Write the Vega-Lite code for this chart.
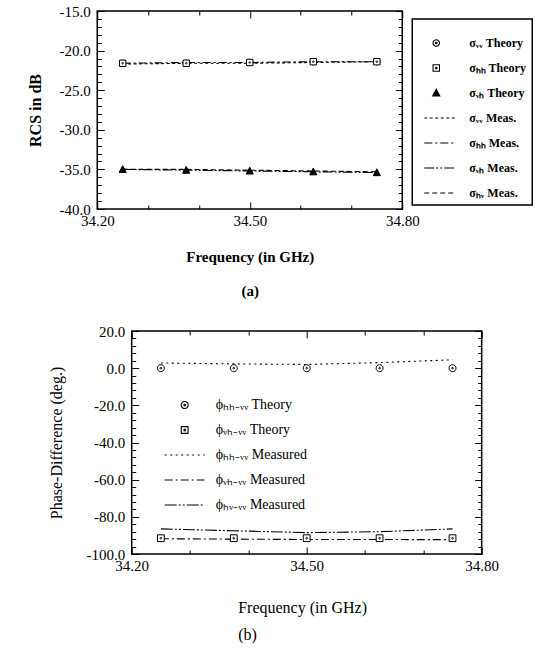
{
  "$schema": "https://vega.github.io/schema/vega-lite/v6.json",
  "background": "white",
  "padding": {"left": 26, "top": 3, "right": 0, "bottom": 0},
  "center": true,
  "spacing": 24,
  "resolve": {"scale": {"shape": "independent", "fill": "independent", "strokeDash": "independent", "x": "independent", "y": "independent"}, "legend": {"shape": "independent", "fill": "independent", "strokeDash": "independent"}},
  "config": {
    "font": "Liberation Serif",
    "view": {"stroke": "black", "strokeWidth": 1.5},
    "axis": {"domain": false, "grid": false, "ticks": true, "tickColor": "black", "tickWidth": 1, "labelColor": "black", "titleColor": "black", "labelFont": "Liberation Serif", "titleFont": "Liberation Serif", "labelFlush": false, "labelOverlap": false},
    "legend": {"labelFont": "Liberation Serif", "labelColor": "black"}
  },
  "datasets": {
    "top": [
      {"f": 34.25, "v": -21.6, "s": "σᵥᵥ Theory"},
      {"f": 34.375, "v": -21.6, "s": "σᵥᵥ Theory"},
      {"f": 34.5, "v": -21.5, "s": "σᵥᵥ Theory"},
      {"f": 34.625, "v": -21.4, "s": "σᵥᵥ Theory"},
      {"f": 34.75, "v": -21.4, "s": "σᵥᵥ Theory"},
      {"f": 34.25, "v": -21.6, "s": "σₕₕ Theory"},
      {"f": 34.375, "v": -21.6, "s": "σₕₕ Theory"},
      {"f": 34.5, "v": -21.5, "s": "σₕₕ Theory"},
      {"f": 34.625, "v": -21.4, "s": "σₕₕ Theory"},
      {"f": 34.75, "v": -21.4, "s": "σₕₕ Theory"},
      {"f": 34.25, "v": -35.0, "s": "σᵥₕ Theory"},
      {"f": 34.375, "v": -35.1, "s": "σᵥₕ Theory"},
      {"f": 34.5, "v": -35.2, "s": "σᵥₕ Theory"},
      {"f": 34.625, "v": -35.3, "s": "σᵥₕ Theory"},
      {"f": 34.75, "v": -35.4, "s": "σᵥₕ Theory"},
      {"f": 34.25, "v": -21.7, "s": "σᵥᵥ Meas."},
      {"f": 34.375, "v": -21.6, "s": "σᵥᵥ Meas."},
      {"f": 34.5, "v": -21.6, "s": "σᵥᵥ Meas."},
      {"f": 34.625, "v": -21.5, "s": "σᵥᵥ Meas."},
      {"f": 34.75, "v": -21.4, "s": "σᵥᵥ Meas."},
      {"f": 34.25, "v": -21.6, "s": "σₕₕ Meas."},
      {"f": 34.375, "v": -21.5, "s": "σₕₕ Meas."},
      {"f": 34.5, "v": -21.5, "s": "σₕₕ Meas."},
      {"f": 34.625, "v": -21.4, "s": "σₕₕ Meas."},
      {"f": 34.75, "v": -21.4, "s": "σₕₕ Meas."},
      {"f": 34.25, "v": -35.0, "s": "σᵥₕ Meas."},
      {"f": 34.375, "v": -35.1, "s": "σᵥₕ Meas."},
      {"f": 34.5, "v": -35.2, "s": "σᵥₕ Meas."},
      {"f": 34.625, "v": -35.3, "s": "σᵥₕ Meas."},
      {"f": 34.75, "v": -35.4, "s": "σᵥₕ Meas."},
      {"f": 34.25, "v": -35.0, "s": "σₕᵥ Meas."},
      {"f": 34.375, "v": -35.0, "s": "σₕᵥ Meas."},
      {"f": 34.5, "v": -35.1, "s": "σₕᵥ Meas."},
      {"f": 34.625, "v": -35.2, "s": "σₕᵥ Meas."},
      {"f": 34.75, "v": -35.3, "s": "σₕᵥ Meas."}
    ],
    "bottom": [
      {"f": 34.25, "v": 0.0, "s": "ϕₕₕ₋ᵥᵥ  Theory"},
      {"f": 34.375, "v": 0.0, "s": "ϕₕₕ₋ᵥᵥ  Theory"},
      {"f": 34.5, "v": 0.0, "s": "ϕₕₕ₋ᵥᵥ  Theory"},
      {"f": 34.625, "v": 0.0, "s": "ϕₕₕ₋ᵥᵥ  Theory"},
      {"f": 34.75, "v": 0.0, "s": "ϕₕₕ₋ᵥᵥ  Theory"},
      {"f": 34.25, "v": -91.5, "s": "ϕᵥₕ₋ᵥᵥ  Theory"},
      {"f": 34.375, "v": -91.5, "s": "ϕᵥₕ₋ᵥᵥ  Theory"},
      {"f": 34.5, "v": -91.5, "s": "ϕᵥₕ₋ᵥᵥ  Theory"},
      {"f": 34.625, "v": -91.5, "s": "ϕᵥₕ₋ᵥᵥ  Theory"},
      {"f": 34.75, "v": -91.5, "s": "ϕᵥₕ₋ᵥᵥ  Theory"},
      {"f": 34.25, "v": 2.8, "s": "ϕₕₕ₋ᵥᵥ  Measured"},
      {"f": 34.375, "v": 2.3, "s": "ϕₕₕ₋ᵥᵥ  Measured"},
      {"f": 34.5, "v": 2.0, "s": "ϕₕₕ₋ᵥᵥ  Measured"},
      {"f": 34.625, "v": 3.0, "s": "ϕₕₕ₋ᵥᵥ  Measured"},
      {"f": 34.75, "v": 4.5, "s": "ϕₕₕ₋ᵥᵥ  Measured"},
      {"f": 34.25, "v": -91.8, "s": "ϕᵥₕ₋ᵥᵥ  Measured"},
      {"f": 34.375, "v": -92.0, "s": "ϕᵥₕ₋ᵥᵥ  Measured"},
      {"f": 34.5, "v": -92.2, "s": "ϕᵥₕ₋ᵥᵥ  Measured"},
      {"f": 34.625, "v": -92.2, "s": "ϕᵥₕ₋ᵥᵥ  Measured"},
      {"f": 34.75, "v": -92.3, "s": "ϕᵥₕ₋ᵥᵥ  Measured"},
      {"f": 34.25, "v": -86.5, "s": "ϕₕᵥ₋ᵥᵥ  Measured"},
      {"f": 34.375, "v": -87.5, "s": "ϕₕᵥ₋ᵥᵥ  Measured"},
      {"f": 34.5, "v": -88.5, "s": "ϕₕᵥ₋ᵥᵥ  Measured"},
      {"f": 34.625, "v": -88.0, "s": "ϕₕᵥ₋ᵥᵥ  Measured"},
      {"f": 34.75, "v": -86.5, "s": "ϕₕᵥ₋ᵥᵥ  Measured"}
    ]
  },
  "vconcat": [
    {
      "width": 305,
      "height": 198,
      "data": {"name": "top"},
      "resolve": {"axis": {"x": "independent", "y": "independent"}},
      "layer": [
        {
          "transform": [{"filter": "indexof(datum.s, 'Meas') >= 0"}],
          "mark": {"type": "line", "stroke": "black", "strokeWidth": 1.1},
          "encoding": {
            "x": {"field": "f", "type": "quantitative", "scale": {"domain": [34.2, 34.8], "nice": false, "zero": false},
              "axis": {"orient": "bottom", "values": [34.2, 34.5, 34.8], "format": ".2f", "tickSize": -7, "labelFontSize": 15, "labelPadding": 11,
                "title": ["Frequency  (in GHz)", "(a)"], "titleFontSize": 15, "titleFontWeight": "bold", "titleLineHeight": 34, "titlePadding": 21}},
            "y": {"field": "v", "type": "quantitative", "scale": {"domain": [-40, -15], "nice": false, "zero": false},
              "axis": {"orient": "left", "values": [-40, -35, -30, -25, -20, -15], "tickSize": -7,
                "labelExpr": "(datum.value < 0 ? '-' : '') + format(abs(datum.value), '.1f')",
                "labelFontSize": 15, "labelPadding": 14,
                "title": "RCS in dB", "titleFontSize": 16, "titleFontWeight": "bold", "titlePadding": 16}},
            "strokeDash": {"field": "s", "type": "nominal",
              "scale": {"domain": ["σᵥᵥ Theory", "σₕₕ Theory", "σᵥₕ Theory", "σᵥᵥ Meas.", "σₕₕ Meas.", "σᵥₕ Meas.", "σₕᵥ Meas."],
                "range": [[1, 0], [1, 0], [1, 0], [3, 2.5], [8, 3, 2, 3], [10, 2, 2, 2, 2, 2], [5, 3]]},
              "legend": {"orient": "none", "legendX": 315, "legendY": 8, "title": null, "padding": 6, "strokeColor": "black", "symbolSize": 1156, "labelFontSize": 12, "labelFontWeight": "bold", "labelOffset": 15, "rowPadding": 1, "symbolStrokeColor": "black", "symbolStrokeWidth": 1.1, "symbolOpacity": 1, "encode": {"legend": {"update": {"strokeWidth": {"value": 1.5}}}}}}
          }
        },
        {
          "transform": [{"filter": "indexof(datum.s, 'Theory') >= 0"}],
          "mark": {"type": "point", "stroke": "black", "strokeWidth": 1, "opacity": 1, "size": 1156},
          "encoding": {
            "x": {"field": "f", "type": "quantitative", "scale": {"domain": [34.2, 34.8], "nice": false, "zero": false},
              "axis": {"orient": "top", "values": [34.2, 34.5, 34.8], "tickSize": -7, "labels": false, "title": null}},
            "y": {"field": "v", "type": "quantitative", "scale": {"domain": [-40, -15], "nice": false, "zero": false},
              "axis": {"orient": "right", "values": [-40, -35, -30, -25, -20, -15], "tickSize": -7, "labels": false, "title": null}},
            "shape": {"field": "s", "type": "nominal",
              "scale": {"domain": ["σᵥᵥ Theory", "σₕₕ Theory", "σᵥₕ Theory", "σᵥᵥ Meas.", "σₕₕ Meas.", "σᵥₕ Meas.", "σₕᵥ Meas."],
                "range": [
                  "M-0.188,0A0.188,0.188,0,1,1,0.188,0A0.188,0.188,0,1,1,-0.188,0ZM-0.047,0A0.047,0.047,0,1,1,0.047,0A0.047,0.047,0,1,1,-0.047,0Z",
                  "M-0.188,-0.188H0.188V0.188H-0.188ZM-0.047,0A0.047,0.047,0,1,1,0.047,0A0.047,0.047,0,1,1,-0.047,0Z",
                  "M0,-0.22L0.21,0.18H-0.21Z",
                  "M-0.706,0H1.118", "M-0.706,0H1.118", "M-0.706,0H1.118", "M-0.706,0H1.118"]},
              "legend": {"orient": "none", "legendX": 315, "legendY": 8, "title": null, "padding": 6, "strokeColor": "black", "symbolSize": 1156, "labelFontSize": 12, "labelFontWeight": "bold", "labelOffset": 15, "rowPadding": 1, "symbolStrokeColor": "black", "symbolStrokeWidth": 1.1, "symbolOpacity": 1, "encode": {"legend": {"update": {"strokeWidth": {"value": 1.5}}}}}},
            "fill": {"field": "s", "type": "nominal",
              "scale": {"domain": ["σᵥᵥ Theory", "σₕₕ Theory", "σᵥₕ Theory", "σᵥᵥ Meas.", "σₕₕ Meas.", "σᵥₕ Meas.", "σₕᵥ Meas."],
                "range": ["white", "white", "black", "transparent", "transparent", "transparent", "transparent"]},
              "legend": {"orient": "none", "legendX": 315, "legendY": 8, "title": null, "padding": 6, "strokeColor": "black", "symbolSize": 1156, "labelFontSize": 12, "labelFontWeight": "bold", "labelOffset": 15, "rowPadding": 1, "symbolStrokeColor": "black", "symbolStrokeWidth": 1.1, "symbolOpacity": 1, "encode": {"legend": {"update": {"strokeWidth": {"value": 1.5}}}}}}
          }
        },
        {
          "transform": [{"filter": "false"}],
          "mark": {"type": "point", "opacity": 0},
          "encoding": {
            "x": {"field": "f", "type": "quantitative", "scale": {"domain": [34.2, 34.8], "nice": false, "zero": false},
              "axis": {"orient": "bottom", "values": [34.3, 34.4, 34.6, 34.7], "tickSize": -4, "labels": false, "title": null}},
            "y": {"field": "v", "type": "quantitative", "scale": {"domain": [-40, -15], "nice": false, "zero": false},
              "axis": {"orient": "left", "values": [-39,-38,-37,-36,-34,-33,-32,-31,-29,-28,-27,-26,-24,-23,-22,-21,-19,-18,-17,-16], "tickSize": -4, "labels": false, "title": null}}
          }
        },
        {
          "transform": [{"filter": "false"}],
          "mark": {"type": "point", "opacity": 0},
          "encoding": {
            "x": {"field": "f", "type": "quantitative", "scale": {"domain": [34.2, 34.8], "nice": false, "zero": false},
              "axis": {"orient": "top", "values": [34.3, 34.4, 34.6, 34.7], "tickSize": -4, "labels": false, "title": null}},
            "y": {"field": "v", "type": "quantitative", "scale": {"domain": [-40, -15], "nice": false, "zero": false},
              "axis": {"orient": "right", "values": [-39,-38,-37,-36,-34,-33,-32,-31,-29,-28,-27,-26,-24,-23,-22,-21,-19,-18,-17,-16], "tickSize": -4, "labels": false, "title": null}}
          }
        }
      ]
    },
    {
      "width": 350,
      "height": 223,
      "data": {"name": "bottom"},
      "resolve": {"axis": {"x": "independent", "y": "independent"}},
      "layer": [
        {
          "transform": [{"filter": "indexof(datum.s, 'Measured') >= 0"}],
          "mark": {"type": "line", "stroke": "black", "strokeWidth": 1.1},
          "encoding": {
            "x": {"field": "f", "type": "quantitative", "scale": {"domain": [34.2, 34.8], "nice": false, "zero": false},
              "axis": {"orient": "bottom", "values": [34.2, 34.5, 34.8], "format": ".2f", "tickSize": -7, "labelFontSize": 15, "labelPadding": 11,
                "title": ["Frequency  (in GHz)", "\u2003\u2009(b)"], "titleFontSize": 16, "titleFontWeight": "normal", "titleLineHeight": 27, "titlePadding": 26, "titleX": 106, "titleAlign": "left"}},
            "y": {"field": "v", "type": "quantitative", "scale": {"domain": [-100, 20], "nice": false, "zero": false},
              "axis": {"orient": "left", "values": [-100, -80, -60, -40, -20, 0, 20], "tickSize": -7,
                "labelExpr": "(datum.value < 0 ? '-' : '') + format(abs(datum.value), '.1f')",
                "labelFontSize": 15, "labelPadding": 14,
                "title": "Phase-Difference (deg.)", "titleFontSize": 16, "titleFontWeight": "normal", "titlePadding": 21}},
            "strokeDash": {"field": "s", "type": "nominal",
              "scale": {"domain": ["ϕₕₕ₋ᵥᵥ  Theory", "ϕᵥₕ₋ᵥᵥ  Theory", "ϕₕₕ₋ᵥᵥ  Measured", "ϕᵥₕ₋ᵥᵥ  Measured", "ϕₕᵥ₋ᵥᵥ  Measured"],
                "range": [[1, 0], [1, 0], [2, 3.5], [8, 3, 2, 3], [12, 2, 2, 2, 2, 2]]},
              "legend": {"orient": "none", "legendX": 34, "legendY": 55, "title": null, "padding": 1, "strokeColor": "transparent", "symbolSize": 1156, "labelFontSize": 14, "labelFontWeight": "normal", "labelOffset": 13, "rowPadding": 0, "symbolStrokeColor": "black", "symbolStrokeWidth": 1.1, "symbolOpacity": 1, "encode": {"legend": {"update": {"strokeWidth": {"value": 0}}}}}}
          }
        },
        {
          "transform": [{"filter": "indexof(datum.s, 'Theory') >= 0"}],
          "mark": {"type": "point", "stroke": "black", "strokeWidth": 1, "opacity": 1, "size": 1156},
          "encoding": {
            "x": {"field": "f", "type": "quantitative", "scale": {"domain": [34.2, 34.8], "nice": false, "zero": false},
              "axis": {"orient": "top", "values": [34.2, 34.5, 34.8], "tickSize": -7, "labels": false, "title": null}},
            "y": {"field": "v", "type": "quantitative", "scale": {"domain": [-100, 20], "nice": false, "zero": false},
              "axis": {"orient": "right", "values": [-100, -80, -60, -40, -20, 0, 20], "tickSize": -7, "labels": false, "title": null}},
            "shape": {"field": "s", "type": "nominal",
              "scale": {"domain": ["ϕₕₕ₋ᵥᵥ  Theory", "ϕᵥₕ₋ᵥᵥ  Theory", "ϕₕₕ₋ᵥᵥ  Measured", "ϕᵥₕ₋ᵥᵥ  Measured", "ϕₕᵥ₋ᵥᵥ  Measured"],
                "range": [
                  "M-0.206,0A0.206,0.206,0,1,1,0.206,0A0.206,0.206,0,1,1,-0.206,0ZM-0.05,0A0.05,0.05,0,1,1,0.05,0A0.05,0.05,0,1,1,-0.05,0Z",
                  "M-0.2,-0.2H0.2V0.2H-0.2ZM-0.05,0A0.05,0.05,0,1,1,0.05,0A0.05,0.05,0,1,1,-0.05,0Z",
                  "M-1.176,0H1.176", "M-1.176,0H1.176", "M-1.176,0H1.176"]},
              "legend": {"orient": "none", "legendX": 34, "legendY": 55, "title": null, "padding": 1, "strokeColor": "transparent", "symbolSize": 1156, "labelFontSize": 14, "labelFontWeight": "normal", "labelOffset": 13, "rowPadding": 0, "symbolStrokeColor": "black", "symbolStrokeWidth": 1.1, "symbolOpacity": 1, "encode": {"legend": {"update": {"strokeWidth": {"value": 0}}}}}},
            "fill": {"field": "s", "type": "nominal",
              "scale": {"domain": ["ϕₕₕ₋ᵥᵥ  Theory", "ϕᵥₕ₋ᵥᵥ  Theory", "ϕₕₕ₋ᵥᵥ  Measured", "ϕᵥₕ₋ᵥᵥ  Measured", "ϕₕᵥ₋ᵥᵥ  Measured"],
                "range": ["white", "white", "transparent", "transparent", "transparent"]},
              "legend": {"orient": "none", "legendX": 34, "legendY": 55, "title": null, "padding": 1, "strokeColor": "transparent", "symbolSize": 1156, "labelFontSize": 14, "labelFontWeight": "normal", "labelOffset": 13, "rowPadding": 0, "symbolStrokeColor": "black", "symbolStrokeWidth": 1.1, "symbolOpacity": 1, "encode": {"legend": {"update": {"strokeWidth": {"value": 0}}}}}}
          }
        },
        {
          "transform": [{"filter": "false"}],
          "mark": {"type": "point", "opacity": 0},
          "encoding": {
            "x": {"field": "f", "type": "quantitative", "scale": {"domain": [34.2, 34.8], "nice": false, "zero": false},
              "axis": {"orient": "bottom", "values": [34.3, 34.4, 34.6, 34.7], "tickSize": -4, "labels": false, "title": null}},
            "y": {"field": "v", "type": "quantitative", "scale": {"domain": [-100, 20], "nice": false, "zero": false},
              "axis": {"orient": "left", "values": [-96,-92,-88,-84,-76,-72,-68,-64,-56,-52,-48,-44,-36,-32,-28,-24,-16,-12,-8,-4,4,8,12,16], "tickSize": -4, "labels": false, "title": null}}
          }
        },
        {
          "transform": [{"filter": "false"}],
          "mark": {"type": "point", "opacity": 0},
          "encoding": {
            "x": {"field": "f", "type": "quantitative", "scale": {"domain": [34.2, 34.8], "nice": false, "zero": false},
              "axis": {"orient": "top", "values": [34.3, 34.4, 34.6, 34.7], "tickSize": -4, "labels": false, "title": null}},
            "y": {"field": "v", "type": "quantitative", "scale": {"domain": [-100, 20], "nice": false, "zero": false},
              "axis": {"orient": "right", "values": [-96,-92,-88,-84,-76,-72,-68,-64,-56,-52,-48,-44,-36,-32,-28,-24,-16,-12,-8,-4,4,8,12,16], "tickSize": -4, "labels": false, "title": null}}
          }
        }
      ]
    }
  ]
}
